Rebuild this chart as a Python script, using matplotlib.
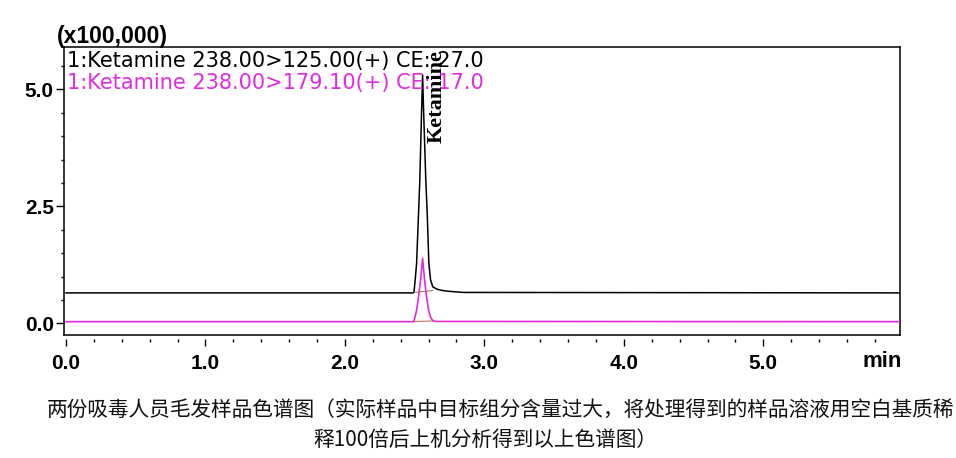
import matplotlib
matplotlib.use("Agg")
import matplotlib.pyplot as plt
from matplotlib.ticker import MultipleLocator, FixedLocator

# ---- data (intensity in units of 100,000) ----
black_t = [0.00, 2.490, 2.495, 2.504, 2.514, 2.528, 2.537, 2.550, 2.557, 2.564,
           2.580, 2.590, 2.602, 2.614, 2.630, 2.660, 2.700, 2.760, 2.850, 5.98]
black_y = [0.65, 0.65, 0.66, 0.93, 1.28, 2.36, 3.06, 4.56, 5.31, 4.56,
           3.06, 2.36, 1.28, 0.93, 0.78, 0.73, 0.70, 0.68, 0.66, 0.65]

pink_t = [0.00, 2.490, 2.495, 2.514, 2.528, 2.543, 2.557, 2.571, 2.585, 2.600,
          2.615, 2.631, 2.650, 5.98]
pink_y = [0.035, 0.035, 0.04, 0.28, 0.57, 0.93, 1.39, 0.93, 0.57, 0.28,
          0.12, 0.06, 0.04, 0.035]

int_base_t = [2.495, 2.630]
black_int_y = [0.66, 0.70]
pink_int_y = [0.04, 0.05]

x_major = [0.0, 1.0, 2.0, 3.0, 4.0, 5.0]
x_labels = ["0.0", "1.0", "2.0", "3.0", "4.0", "5.0"]
y_major = [0.0, 2.5, 5.0]
y_labels = ["0.0", "2.5", "5.0"]

legend1 = "1:Ketamine 238.00>125.00(+) CE: 27.0"
legend2 = "1:Ketamine 238.00>179.10(+) CE: 17.0"
peak_label = "Ketamine"
peak_pos = (2.66, 3.86)
scale_label = "(x100,000)"
caption1 = "两份吸毒人员毛发样品色谱图（实际样品中目标组分含量过大，将处理得到的样品溶液用空白基质稀"
caption2 = "释100倍后上机分析得到以上色谱图）"

BLACK = "#000000"
PINK = "#e22be0"
BROWN = "#b0604a"

W, H = 956, 458
fig = plt.figure(figsize=(W / 100, H / 100), dpi=100)
fig.patch.set_facecolor("white")
left, right, top, bottom = 64.3, 900, 47.3, 335
ax = fig.add_axes([left / W, 1 - bottom / H, (right - left) / W, (bottom - top) / H])

ax.plot(black_t, black_y, color=BLACK, lw=1.1, zorder=3)
ax.plot(pink_t, pink_y, color=PINK, lw=1.2, zorder=3)
ax.plot(int_base_t, black_int_y, color=BROWN, lw=0.7, zorder=4)
ax.plot(int_base_t, pink_int_y, color=BROWN, lw=0.7, zorder=4)

ax.set_xlim(-0.012, 5.98)
ax.set_ylim(-0.25, 5.90)

for s in ax.spines.values():
    s.set_linewidth(1.1)
    s.set_color("black")
ax.spines["bottom"].set_position(("outward", 3))
ax.spines["bottom"].set_visible(False)
ax.plot([0, 1], [0, 0], transform=ax.transAxes, color="black", lw=1.1, clip_on=False, zorder=5)

ax.xaxis.set_major_locator(FixedLocator(x_major))
ax.set_xticklabels(x_labels)
ax.xaxis.set_minor_locator(MultipleLocator(0.2))
ax.yaxis.set_major_locator(FixedLocator(y_major))
ax.set_yticklabels(y_labels)
ax.yaxis.set_minor_locator(MultipleLocator(0.5))

ax.tick_params(axis="both", which="major", direction="out", width=1.0, labelsize=15)
ax.tick_params(axis="x", which="major", length=5, pad=6)
ax.tick_params(axis="x", which="minor", length=2.3, width=1.0)
ax.tick_params(axis="y", which="major", length=5.5, pad=2)
ax.tick_params(axis="y", which="minor", length=2.4, width=1.0)
for lab in ax.get_xticklabels() + ax.get_yticklabels():
    lab.set_fontfamily("Liberation Sans")
    lab.set_fontweight("bold")

ax.text(0.003, 0.9326, legend1, transform=ax.transAxes, fontsize=15,
        family="DejaVu Sans", color=BLACK, va="baseline", ha="left", zorder=6)
ax.text(0.003, 0.854, legend2, transform=ax.transAxes, fontsize=15,
        family="DejaVu Sans", color=PINK, va="baseline", ha="left", zorder=6)

ax.text(peak_pos[0], peak_pos[1], peak_label, rotation=90, ha="center", va="bottom",
        fontsize=16, family="Liberation Serif", fontweight="bold", color=BLACK, zorder=7)

fig.text(56.7 / W, 1 - 43 / H, scale_label, fontsize=16.5, family="Liberation Sans",
         fontweight="bold", ha="left", va="baseline")
fig.text(882 / W, 1 - 361.5 / H, "min", fontsize=16, family="Liberation Sans",
         fontweight="bold", ha="center", va="center")

fig.text(47 / W, 1 - 410 / H, caption1, fontsize=14.9,
         family=["Noto Sans CJK SC", "DejaVu Sans"], ha="left", va="center", color="#111111")
fig.text(313 / W, 1 - 440 / H, caption2, fontsize=14.9,
         family=["Noto Sans CJK SC", "DejaVu Sans"], ha="left", va="center", color="#111111")

fig.savefig("out.png", dpi=100)
